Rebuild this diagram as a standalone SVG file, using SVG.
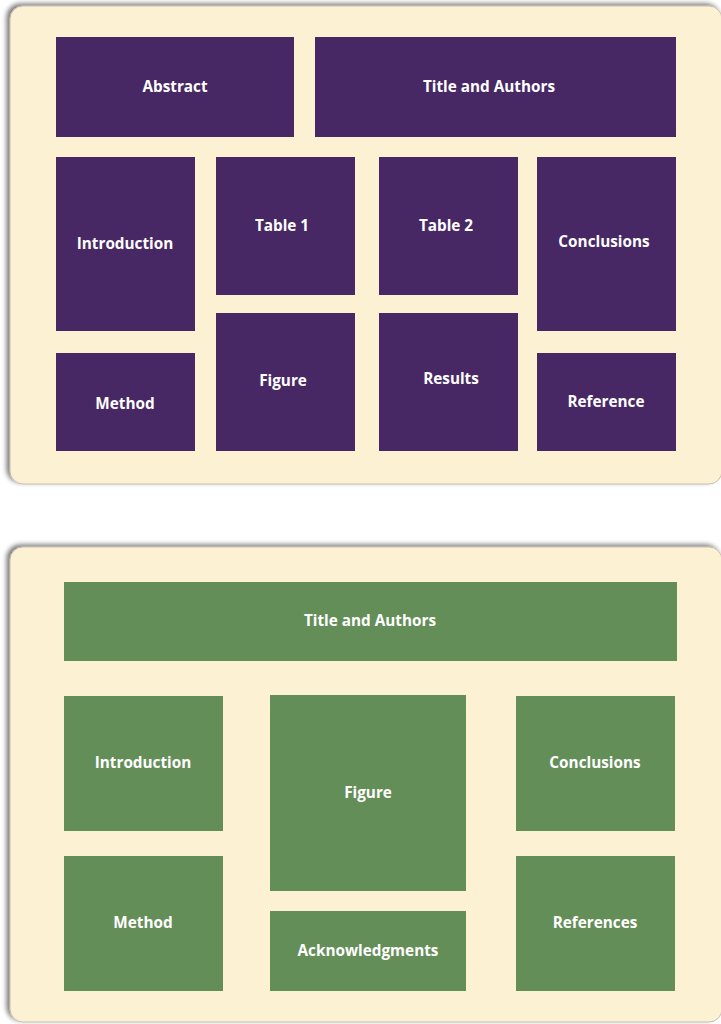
<svg xmlns="http://www.w3.org/2000/svg" width="721" height="1024" viewBox="0 0 721 1024">
<defs>
<filter id="sh" x="-5%" y="-5%" width="110%" height="110%">
<feGaussianBlur in="SourceAlpha" stdDeviation="2.5"/>
<feOffset dx="-3" dy="-2" result="b"/>
<feComponentTransfer><feFuncA type="linear" slope="0.55"/></feComponentTransfer>
<feMerge><feMergeNode/><feMergeNode in="SourceGraphic"/></feMerge>
</filter>
</defs>
<style>
.panel{fill:#fdf1d3;stroke:#b9b3a4;stroke-width:0.8}
.p{fill:#472864}
.g{fill:#638e58}
text{font-family:"Open Sans","Liberation Sans",sans-serif;font-weight:bold;font-size:15.3px;fill:#ffffff;text-anchor:middle;dominant-baseline:middle}
</style>
<rect width="721" height="1024" fill="#ffffff"/>
<rect class="panel" x="10" y="6" width="712" height="478" rx="13" filter="url(#sh)"/>
<rect class="panel" x="10" y="547" width="712" height="475" rx="13" filter="url(#sh)"/>
<g id="abstract"><rect class="p" x="56" y="37" width="238" height="100"/><text x="175" y="88">Abstract</text></g>
<g id="title1"><rect class="p" x="315" y="37" width="361" height="100"/><text x="489" y="88">Title and Authors</text></g>
<g id="intro1"><rect class="p" x="56" y="157" width="139" height="174"/><text x="125" y="245">Introduction</text></g>
<g id="table1"><rect class="p" x="216" y="157" width="139" height="138"/><text x="282" y="227">Table 1</text></g>
<g id="table2"><rect class="p" x="379" y="157" width="139" height="138"/><text x="446" y="227">Table 2</text></g>
<g id="concl1"><rect class="p" x="537" y="157" width="139" height="174"/><text x="604" y="243">Conclusions</text></g>
<g id="method1"><rect class="p" x="56" y="353" width="139" height="98"/><text x="125" y="405">Method</text></g>
<g id="figure1"><rect class="p" x="216" y="313" width="139" height="138"/><text x="283" y="382">Figure</text></g>
<g id="results1"><rect class="p" x="379" y="313" width="139" height="138"/><text x="451" y="380">Results</text></g>
<g id="ref1"><rect class="p" x="537" y="353" width="139" height="98"/><text x="606" y="403">Reference</text></g>
<g id="title2"><rect class="g" x="64" y="582" width="613" height="79"/><text x="370" y="622">Title and Authors</text></g>
<g id="intro2"><rect class="g" x="64" y="696" width="159" height="135"/><text x="143" y="764">Introduction</text></g>
<g id="figure2"><rect class="g" x="270" y="695" width="196" height="196"/><text x="368" y="794">Figure</text></g>
<g id="concl2"><rect class="g" x="516" y="696" width="159" height="135"/><text x="595" y="764">Conclusions</text></g>
<g id="method2"><rect class="g" x="64" y="856" width="159" height="135"/><text x="143" y="924">Method</text></g>
<g id="ack2"><rect class="g" x="270" y="911" width="196" height="80"/><text x="368" y="952">Acknowledgments</text></g>
<g id="ref2"><rect class="g" x="516" y="856" width="159" height="135"/><text x="595" y="924">References</text></g>
<g id="connectors"/>
</svg>
